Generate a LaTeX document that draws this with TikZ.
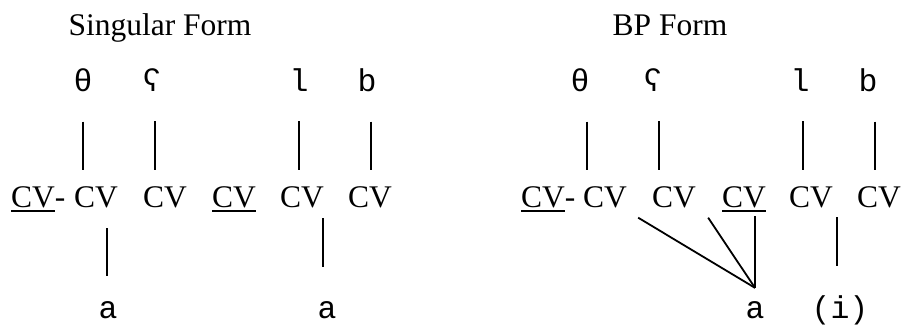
\documentclass[tikz,border=0pt]{standalone}
\usepackage{fontspec}
\setmainfont{Liberation Serif}
\newfontfamily\segfont{Liberation Mono}
\usetikzlibrary{calc}
\newcommand\ulcv[1]{\setbox0\hbox{#1}\rlap{\rule[-5pt]{\wd0}{2.2pt}}\box0}

\begin{document}
\begin{tikzpicture}[x=1pt, y=-1pt,
  every node/.style={inner sep=0pt, font=\fontsize{31.5}{38}\selectfont},
  seg/.style={anchor=base, font=\fontsize{31.5}{38}\selectfont\segfont},
  cv/.style={anchor=base west},
  assoc/.style={line width=1.8pt}]
  \useasboundingbox (0,0) rectangle (903,325);

  % Singular form
  \node[anchor=base] (title1) at (160,35) {Singular Form};
  \node[seg] (r1) at (83,91) {θ};
  \node[seg] (r2) at (152,91) {ʕ};
  \node[seg] (r3) at (299,91) {l};
  \node[seg] (r4) at (367,91) {b};
  \node[cv] (c1) at (11,207) {\ulcv{CV}-};
  \node[cv] (c2) at (74,207) {CV};
  \node[cv] (c3) at (143,207) {CV};
  \node[cv] (c4) at (212,207) {\ulcv{CV}};
  \node[cv] (c5) at (280,207) {CV};
  \node[cv] (c6) at (348,207) {CV};
  \node[seg] (v1) at (108,318) {a};
  \node[seg] (v2) at (327,318) {a};

  \draw[assoc, shorten <=30pt, shorten >=16pt] (r1.south) -- (r1.south |- c2.north);
  \draw[assoc, shorten <=30pt, shorten >=16pt] ([xshift=3pt]r2.south) -- ([xshift=3pt]r2.south |- c3.north);
  \draw[assoc, shorten <=30pt, shorten >=16pt] (r3.south) -- (r3.south |- c5.north);
  \draw[assoc, shorten <=30pt, shorten >=16pt] ([xshift=4pt]r4.south) -- ([xshift=4pt]r4.south |- c6.north);
  \draw[assoc, shorten <=25pt, shorten >=20pt] ([xshift=-1pt]v1.north) -- ([xshift=-1pt]v1.north |- c2.south);
  \draw[assoc, shorten <=34pt, shorten >=10pt] ([xshift=-4pt]v2.north) -- ([xshift=-4pt]v2.north |- c5.south);

  % BP form
  \node[anchor=base] (title2) at (670,35) {BP Form};
  \node[seg] (r5) at (580,91) {θ};
  \node[seg] (r6) at (653,91) {ʕ};
  \node[seg] (r7) at (800,91) {l};
  \node[seg] (r8) at (868,91) {b};
  \node[cv] (c7) at (521,207) {\ulcv{CV}-};
  \node[cv] (c8) at (583,207) {CV};
  \node[cv] (c9) at (652,207) {CV};
  \node[cv] (c10) at (722,207) {\ulcv{CV}};
  \node[cv] (c11) at (789,207) {CV};
  \node[cv] (c12) at (857,207) {CV};
  \node[seg] (v3) at (755,318) {a};
  \node[seg] (v4) at (840,318) {(i)};
  \coordinate (fan) at ([yshift=13pt]v3.north);

  \draw[assoc, shorten <=30pt, shorten >=16pt] ([xshift=7pt]r5.south) -- ([xshift=7pt]r5.south |- c8.north);
  \draw[assoc, shorten <=30pt, shorten >=16pt] ([xshift=6pt]r6.south) -- ([xshift=6pt]r6.south |- c9.north);
  \draw[assoc, shorten <=30pt, shorten >=16pt] ([xshift=3pt]r7.south) -- ([xshift=3pt]r7.south |- c11.north);
  \draw[assoc, shorten <=30pt, shorten >=16pt] ([xshift=7pt]r8.south) -- ([xshift=7pt]r8.south |- c12.north);
  \draw[assoc] (fan) -- ([shift={(11,10)}]c8.south east);
  \draw[assoc] (fan) -- ([shift={(12,10)}]c9.south east);
  \draw[assoc] (fan) -- (fan |- 0,216);
  \draw[assoc, shorten <=29pt, shorten >=9pt] ([xshift=-3pt]v4.north) -- ([xshift=-3pt]v4.north |- c11.south);
\end{tikzpicture}
\end{document}
